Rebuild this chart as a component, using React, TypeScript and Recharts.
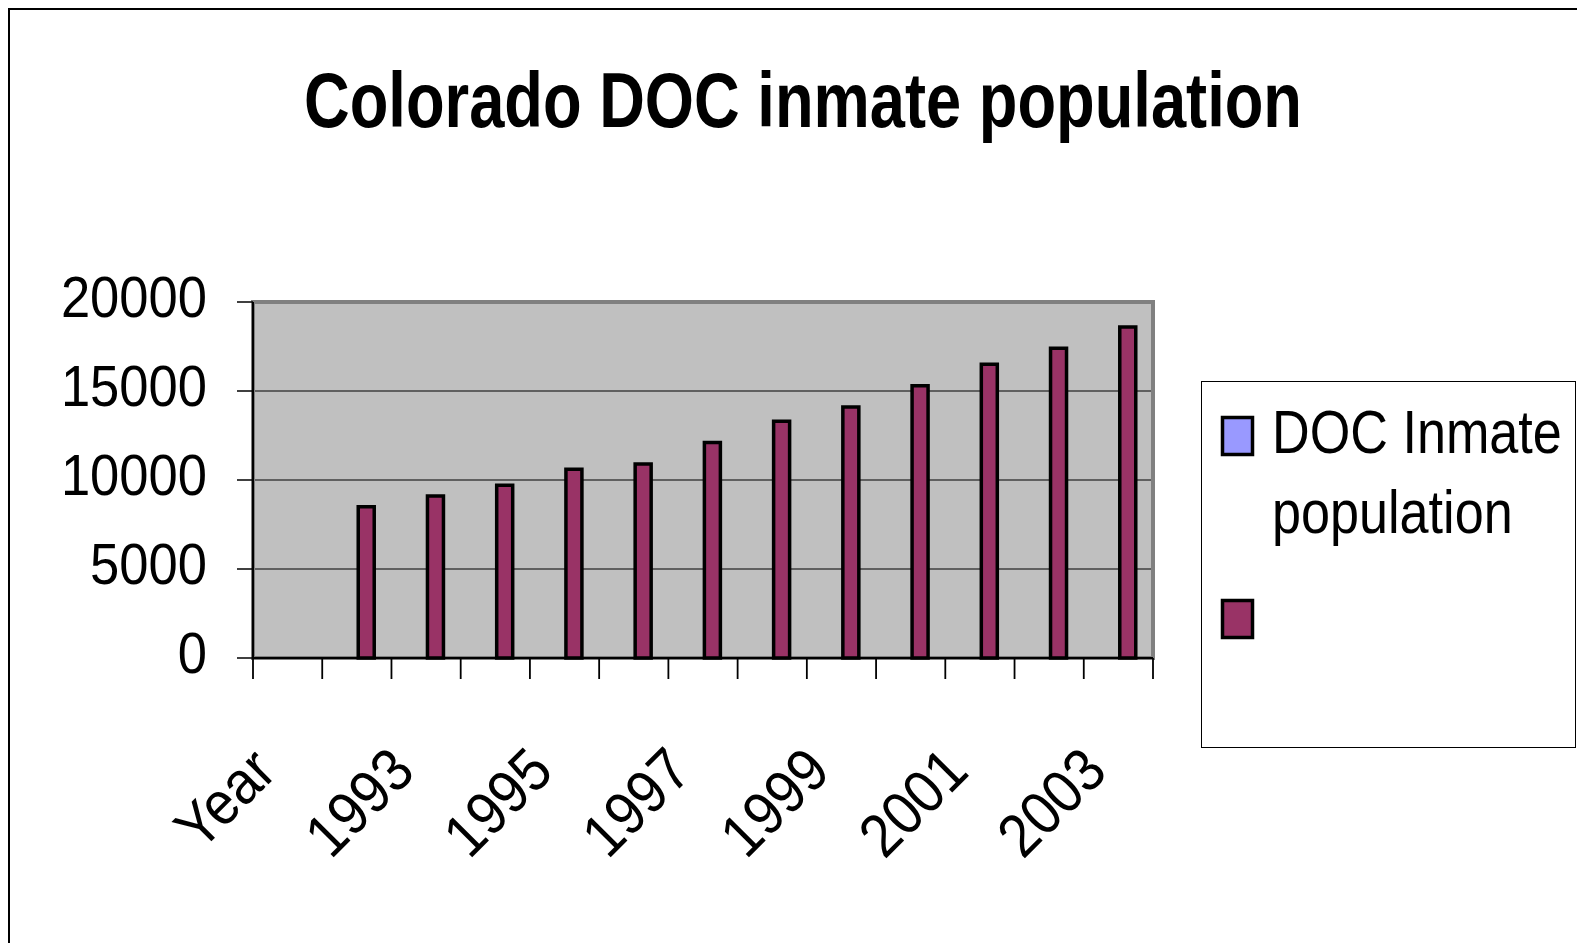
import React from 'react';
import { ComposedChart, Bar, XAxis, YAxis, CartesianGrid, ReferenceArea, Legend } from 'recharts';

const categories = ['Year', '1992', '1993', '1994', '1995', '1996', '1997', '1998', '1999', '2000', '2001', '2002', '2003'];
const docSeries: (number | null)[] = [null, null, null, null, null, null, null, null, null, null, null, null, null];
const inmateSeries: (number | null)[] = [null, 8500, 9100, 9700, 10600, 10900, 12100, 13300, 14100, 15300, 16500, 17400, 18600];
const yTicks = [0, 5000, 10000, 15000, 20000];
const seriesNames = ['DOC Inmate population', ''];
const seriesColors = ['#9999FF', '#993366'];
const titleText = 'Colorado DOC inmate population';

const data = categories.map((c, i) => ({ cat: c, s1: docSeries[i], s2: inmateSeries[i] }));

const FONT = 'Liberation Sans, Arial, sans-serif';

const XTick = (props: any) => {
  const { x, y, payload, index } = props;
  const half = typeof payload?.offset === 'number' && payload.offset > 0 ? payload.offset : 900 / categories.length / 2;
  const last = index === categories.length - 1;
  return (
    <g>
      <line x1={x - half} x2={x - half} y1={y} y2={y + 21} stroke="#000" strokeWidth={1.8} />
      {last && <line x1={x + half} x2={x + half} y1={y} y2={y + 21} stroke="#000" strokeWidth={1.8} />}
      {index % 2 === 0 && (
        <text
          transform={`translate(${x - 9},${y + 116}) rotate(-45) scale(0.9,1)`}
          textAnchor="end"
          fontSize={61}
          fontFamily={FONT}
          fill="#000"
        >
          {payload.value}
        </text>
      )}
    </g>
  );
};

const YTick = (props: any) => {
  const { x, y, payload } = props;
  return (
    <text
      transform={`translate(${x},${y + 15}) scale(0.906,1)`}
      textAnchor="end"
      fontSize={58}
      fontFamily={FONT}
      fill="#000"
    >
      {payload.value}
    </text>
  );
};

const LegendContent = () => {
  return (
    <svg width={375} height={367} style={{ display: 'block' }}>
      <rect x={0.5} y={0.5} width={374} height={366} fill="#fff" stroke="#000" strokeWidth={1} />
      {seriesNames.map((label, i) => {
        const top = i === 0 ? 36.5 : 219.5;
        const words = label.split(' ');
        const lines = label ? [words.slice(0, 2).join(' '), words.slice(2).join(' ')] : [];
        return (
          <g key={i}>
            <rect x={21.5} y={top} width={30} height={37} fill={seriesColors[i]} stroke="#000" strokeWidth={3.5} />
            {lines.map((ln, j) => (
              <text
                key={j}
                transform={`translate(71,${72 + j * 80}) scale(0.855,1)`}
                fontSize={61}
                fontFamily={FONT}
                fill="#000"
              >
                {ln}
              </text>
            ))}
          </g>
        );
      })}
    </svg>
  );
};

export default function App() {
  return (
    <div style={{ position: 'relative', width: 1577, height: 935 }}>
      <div
        style={{
          position: 'absolute',
          left: 0,
          top: 0,
          width: 1577,
          height: 935,
          borderTop: '2px solid #000',
          borderLeft: '2px solid #000',
          boxSizing: 'border-box',
        }}
      />
      <div style={{ position: 'absolute', left: -8, top: -8 }}>
        <ComposedChart
          width={1585}
          height={943}
          data={data}
          margin={{ top: 302, right: 432, bottom: 85, left: 0 }}
          barSize={16}
          barGap={2}
        >
          <CartesianGrid horizontal vertical={false} stroke="#000" strokeWidth={1.2} fill="#C0C0C0" fillOpacity={1} />
          <ReferenceArea y1={0} y2={20000} fill="none" stroke="#808080" strokeWidth={4} ifOverflow="visible" />
          <XAxis
            dataKey="cat"
            type="category"
            interval={0}
            height={200}
            tickLine={false}
            tickSize={0}
            tickMargin={0}
            axisLine={{ stroke: '#000', strokeWidth: 2 }}
            tick={<XTick />}
          />
          <YAxis
            type="number"
            domain={[0, 20000]}
            ticks={yTicks}
            width={253}
            tickSize={16}
            tickMargin={30}
            interval={0}
            tickLine={{ stroke: '#000', strokeWidth: 1.5 }}
            axisLine={{ stroke: '#000', strokeWidth: 2 }}
            tick={<YTick />}
          />
          <Bar dataKey="s1" name={seriesNames[0]} fill={seriesColors[0]} stroke="#000" strokeWidth={3.5} isAnimationActive={false} />
          <Bar dataKey="s2" name={seriesNames[1] || ' '} fill={seriesColors[1]} stroke="#000" strokeWidth={3.5} isAnimationActive={false} />
          <Legend
            layout="vertical"
            align="center"
            verticalAlign="middle"
            content={<LegendContent />}
            wrapperStyle={{ left: 1201, top: 381, width: 375, height: 367 }}
          />
        </ComposedChart>
        <svg
          width={1585}
          height={200}
          style={{ position: 'absolute', left: 0, top: 0, pointerEvents: 'none' }}
        >
          <text
            x={304}
            y={127}
            fontSize={77}
            fontWeight="bold"
            fontFamily={FONT}
            fill="#000"
            textLength={998}
            lengthAdjust="spacingAndGlyphs"
          >
            {titleText}
          </text>
        </svg>
      </div>
    </div>
  );
}
